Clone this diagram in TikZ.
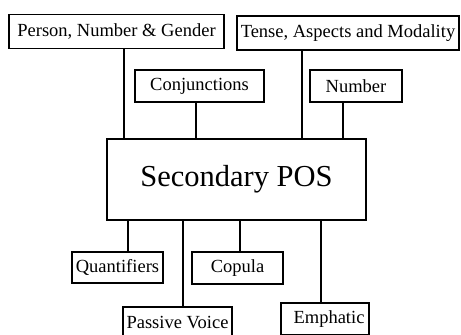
\documentclass[tikz,border=0pt]{standalone}
\usepackage{fontspec}
\setmainfont{Liberation Serif}
\usepackage{tikz}
\usetikzlibrary{positioning}
\tikzset{
  catbox/.style={rectangle, draw=black, fill=white, inner sep=0pt,
    line width=1.2pt, font=\fontsize{18.5}{21}\selectfont},
  mainbox/.style={rectangle, draw=black, fill=white, inner sep=0pt,
    line width=1.2pt, font=\fontsize{30.5}{34}\selectfont},
  link/.style={line width=1.2pt, color=black}
}
\begin{document}
\begin{tikzpicture}[x=1pt, y=-1pt]
  \useasboundingbox (0,0) rectangle (461,335);
  % central box
  \node[mainbox, minimum width=259pt, minimum height=81pt] (main) at (236.5,179.5) {Secondary POS};
  % upper categories
  \node[catbox, minimum width=215pt, minimum height=34pt] (person) at (116.5,31.5) {Person, Number \& Gender};
  \node[catbox, minimum width=129pt, minimum height=32pt] (conj) at (199.5,86) {Conjunctions};
  \node[catbox, minimum width=222pt, minimum height=34pt] (tense) at (348,33) {Tense, Aspects and Modality};
  \node[catbox, minimum width=92pt, minimum height=32pt] (number) at (356,86) {Number};
  % lower categories
  \node[catbox, minimum width=91pt, minimum height=31pt] (quant) at (117.5,267.5) {Quantifiers};
  \node[catbox, minimum width=91pt, minimum height=32pt] (copula) at (237.5,268) {Copula};
  \node[catbox, minimum width=109pt, minimum height=32pt] (passive) at (177.5,323) {Passive Voice};
  \node[catbox, minimum width=88pt, minimum height=32pt] (emph) at (325,319) {\hspace{8pt}Emphatic};
  % connectors
  \foreach \n/\dx in {person/7.5, conj/-3.5, tense/-46, number/-13}
    \draw[link] ([xshift=\dx pt]\n.south) -- ([xshift=\dx pt]\n.south |- main.north);
  \foreach \n/\dx in {quant/10.5, passive/5.5, copula/2.5, emph/-4}
    \draw[link] ([xshift=\dx pt]\n.north) -- ([xshift=\dx pt]\n.north |- main.south);
\end{tikzpicture}
\end{document}
